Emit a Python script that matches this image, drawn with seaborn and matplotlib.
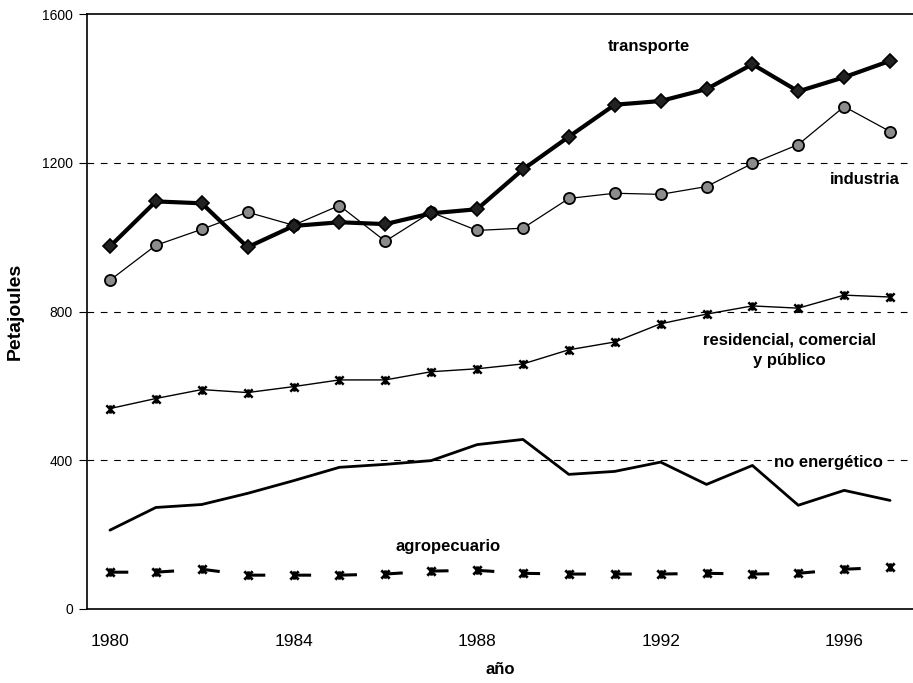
import numpy as np
import pandas as pd
import matplotlib.pyplot as plt
from matplotlib.path import Path
import seaborn as sns

# data (Petajoules per year)
years = list(range(1980, 1998))
transporte = [975, 1096, 1091, 973, 1030, 1040, 1035, 1064, 1075, 1182,
              1270, 1356, 1366, 1398, 1465, 1392, 1430, 1474]
industria = [884, 978, 1021, 1067, 1032, 1085, 989, 1067, 1018, 1024,
             1104, 1118, 1115, 1136, 1198, 1249, 1351, 1284]
residencial = [539, 566, 590, 582, 598, 616, 616, 638, 646, 659,
               697, 718, 767, 793, 815, 809, 844, 839]
no_energetico = [212, 273, 281, 311, 345, 381, 389, 399, 442, 456,
                 362, 370, 395, 335, 386, 279, 319, 292]
agropecuario = [99, 99, 107, 91, 91, 91, 94, 102, 104, 96,
                94, 94, 94, 96, 94, 96, 107, 112]
year_labels = ['1980', '1984', '1988', '1992', '1996']

df = pd.DataFrame({
    'idx': np.arange(len(years)),
    'transporte': transporte,
    'industria': industria,
    'residencial': residencial,
    'no_energetico': no_energetico,
    'agropecuario': agropecuario,
})

sns.set_style('white', {'text.color': 'black', 'axes.labelcolor': 'black',
                        'xtick.color': 'black', 'ytick.color': 'black'})
plt.rcParams['font.family'] = ['Liberation Sans', 'DejaVu Sans']

# Excel-like "star" marker: X with a vertical bar
star = Path([(-1, -1), (1, 1), (-1, 1), (1, -1), (0, -1), (0, 1)],
            [Path.MOVETO, Path.LINETO, Path.MOVETO, Path.LINETO, Path.MOVETO, Path.LINETO])

fig = plt.figure(figsize=(9.13, 6.83), dpi=100)
ax = fig.add_axes([87 / 913, 1 - 609 / 683, 1 - 87 / 913, (609 - 14) / 683])

for v in [400, 800, 1200]:
    ax.axhline(v, color='black', lw=0.8, ls=(0, (6, 6)), zorder=0)

sns.lineplot(data=df, x='idx', y='agropecuario', ax=ax, color='black', lw=2.2,
             linestyle=(0, (6, 9)), marker=star, markersize=6, markeredgewidth=2,
             markeredgecolor='black')
sns.lineplot(data=df, x='idx', y='no_energetico', ax=ax, color='black', lw=2.0)
sns.lineplot(data=df, x='idx', y='residencial', ax=ax, color='black', lw=1.0,
             marker=star, markersize=6, markeredgewidth=1.8, markeredgecolor='black')
sns.lineplot(data=df, x='idx', y='industria', ax=ax, color='black', lw=0.9,
             marker='o', markersize=8, markerfacecolor='#8c8c8c',
             markeredgecolor='black', markeredgewidth=1.3)
sns.lineplot(data=df, x='idx', y='transporte', ax=ax, color='black', lw=3.0,
             marker='D', markersize=7.5, markerfacecolor='#222222',
             markeredgecolor='black', markeredgewidth=1.2)

ax.set_xlim(-0.5, 17.5)
ax.set_ylim(0, 1600)
ax.set_yticks([0, 400, 800, 1200, 1600])
ax.set_xticks([0, 4, 8, 12, 16])
ax.set_xticklabels(year_labels)
ax.set_xticks(np.arange(-0.5, 18, 1), minor=True)
ax.tick_params(axis='x', which='major', length=0, labelsize=12.5, pad=18)
ax.tick_params(axis='x', which='minor', length=5, width=0.8, direction='out')
ax.tick_params(axis='y', length=6, width=0.8, labelsize=10, pad=4, direction='out')
ax.tick_params(bottom=True, left=True)

for s in ['left', 'bottom', 'top']:
    ax.spines[s].set_color('black')
    ax.spines[s].set_linewidth(1.2)
ax.spines['right'].set_visible(False)

ax.set_xlabel('año', fontsize=12, fontweight='bold', labelpad=9)
ax.set_ylabel('Petajoules', fontsize=14, fontweight='bold', labelpad=13)

lab = dict(fontsize=12, fontweight='bold', ha='center', va='center', color='black')
ax.text(11.74, 1512, 'transporte', **lab)
ax.text(16.45, 1155, 'industria', bbox=dict(facecolor='white', edgecolor='none', pad=1), **lab)
ax.text(14.8, 695, 'residencial, comercial\ny público', linespacing=1.45,
        bbox=dict(facecolor='white', edgecolor='none', pad=1), **lab)
ax.text(15.65, 394, 'no energético', bbox=dict(facecolor='white', edgecolor='none', pad=1), **lab)
ax.text(7.36, 169, 'agropecuario', **lab)

fig.savefig('out.png', dpi=100)
